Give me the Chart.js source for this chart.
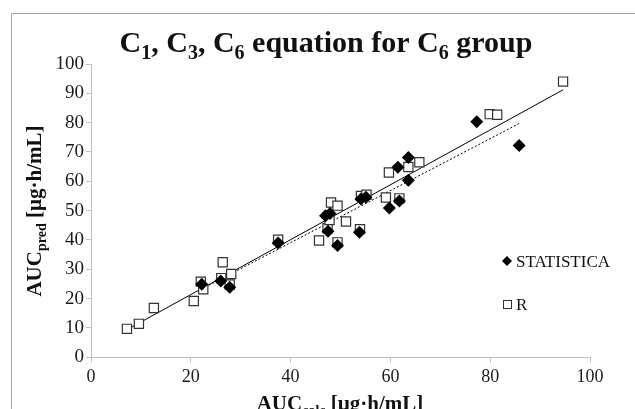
<!DOCTYPE html>
<html>
<head>
<meta charset="utf-8">
<script src="https://cdn.jsdelivr.net/npm/chart.js@4.4.1/dist/chart.umd.min.js"></script>
<style>
  html, body { margin: 0; padding: 0; background: #fff; }
  #wrap { width: 635px; height: 409px; position: relative; }
</style>
</head>
<body>
<div id="wrap"><canvas id="grafico" width="635" height="409"></canvas></div>
<script>
// STATISTICA (rombos negros)
const statX = [22.2, 26.0, 27.8, 37.5, 47.0, 47.9, 47.5, 49.4, 53.8, 54.1, 55.1, 59.8, 61.8, 61.5, 63.6, 63.6, 77.3, 85.8];
const statY = [24.9, 26.0, 23.9, 39.0, 48.3, 49.0, 43.0, 38.1, 42.6, 54.0, 54.6, 50.9, 53.3, 64.8, 68.1, 60.4, 80.3, 72.2];

// R (cuadrados vacios)
const rX = [7.2, 9.6, 12.6, 20.6, 22.0, 22.5, 26.1, 26.4, 27.8, 28.1, 37.5, 45.7, 47.4, 47.8, 48.1, 49.4, 49.4, 51.1, 53.9, 54.1, 55.2, 59.1, 59.7, 61.8, 63.6, 65.8, 79.9, 81.4, 94.6];
const rY = [9.7, 11.4, 16.8, 19.2, 25.8, 23.2, 27.0, 32.4, 24.8, 28.4, 40.1, 39.8, 44.0, 46.8, 52.8, 51.7, 39.2, 46.3, 43.7, 55.0, 55.4, 54.5, 63.0, 54.2, 64.9, 66.5, 82.9, 82.7, 94.0];

// lineas de tendencia (extremos)
const rFitX = [7.2, 94.6];
const rFitY = [9.4, 91.2];
const statFitX = [22.2, 85.8];
const statFitY = [23.3, 79.7];

const ticksY = [0, 10, 20, 30, 40, 50, 60, 70, 80, 90, 100];
const ticksX = [0, 20, 40, 60, 80, 100];

const puntos = (xs, ys) => xs.map((x, i) => ({ x: x, y: ys[i] }));

const serif = '"Liberation Serif", "Times New Roman", serif';

// dibuja texto con subindices
function textoRico(ctx, partes, size, x, y, align) {
    const sub = Math.round(size * 0.65);
    let ancho = 0;
    partes.forEach(p => {
        ctx.font = 'bold ' + (p.sub ? sub : size) + 'px ' + serif;
        p.w = ctx.measureText(p.t).width;
        ancho += p.w;
    });
    let cx = align === 'center' ? x - ancho / 2 : x;
    partes.forEach(p => {
        ctx.font = 'bold ' + (p.sub ? sub : size) + 'px ' + serif;
        ctx.fillText(p.t, cx, p.sub ? y + size * 0.22 : y);
        cx += p.w;
    });
}

const decoracion = {
    id: 'decoracion',
    beforeDraw(chart) {
        const ctx = chart.ctx;
        ctx.save();
        ctx.strokeStyle = '#a6a6a6';
        ctx.lineWidth = 1;
        ctx.beginPath();
        ctx.moveTo(11.5, 409);
        ctx.lineTo(11.5, 13.5);
        ctx.lineTo(635, 13.5);
        ctx.stroke();
        ctx.restore();
    },
    afterDraw(chart) {
        const ctx = chart.ctx;
        ctx.save();
        ctx.fillStyle = '#111';
        ctx.textBaseline = 'alphabetic';
        ctx.textAlign = 'left';
        // titulo
        textoRico(ctx, [
            { t: 'C' }, { t: '1', sub: true }, { t: ', C' }, { t: '3', sub: true },
            { t: ', C' }, { t: '6', sub: true }, { t: ' equation for C' }, { t: '6', sub: true },
            { t: ' group' }
        ], 30, 326, 52, 'center');
        // titulo eje x
        textoRico(ctx, [{ t: 'AUC' }, { t: 'calc', sub: true }, { t: ' [µg·h/mL]' }], 21, 340, 410, 'center');
        // titulo eje y
        ctx.save();
        ctx.translate(41, 211);
        ctx.rotate(-Math.PI / 2);
        textoRico(ctx, [{ t: 'AUC' }, { t: 'pred', sub: true }, { t: ' [µg·h/mL]' }], 21, 0, 0, 'center');
        ctx.restore();

        // leyenda
        ctx.fillStyle = '#000';
        ctx.beginPath();
        ctx.moveTo(507, 256); ctx.lineTo(512, 261); ctx.lineTo(507, 266); ctx.lineTo(502, 261);
        ctx.closePath();
        ctx.fill();
        ctx.strokeStyle = '#333';
        ctx.lineWidth = 1;
        ctx.strokeRect(503.5, 300.5, 8, 8);
        ctx.fillStyle = '#111';
        ctx.font = '17px ' + serif;
        ctx.fillText('STATISTICA', 516, 267);
        ctx.fillText('R', 516, 310);
        ctx.restore();
    }
};

const ctx = document.getElementById('grafico').getContext('2d');
new Chart(ctx, {
    type: 'scatter',
    data: {
        datasets: [
            {
                label: 'STATISTICA',
                data: puntos(statX, statY),
                pointStyle: 'rectRot',
                pointRadius: 6.5,
                backgroundColor: '#000',
                borderColor: '#000',
                borderWidth: 0
            },
            {
                label: 'R',
                data: puntos(rX, rY),
                pointStyle: 'rect',
                pointRadius: 6.5,
                backgroundColor: '#fff',
                borderColor: '#333',
                borderWidth: 1.2
            },
            {
                label: 'tendencia R',
                type: 'line',
                data: puntos(rFitX, rFitY),
                borderColor: '#000',
                borderWidth: 1,
                pointRadius: 0,
                fill: false
            },
            {
                label: 'tendencia STATISTICA',
                type: 'line',
                data: puntos(statFitX, statFitY),
                borderColor: '#000',
                borderWidth: 1,
                borderDash: [2, 2],
                pointRadius: 0,
                fill: false
            }
        ]
    },
    options: {
        responsive: false,
        animation: false,
        layout: { padding: { left: 0, top: 64, right: 45, bottom: 0 } },
        plugins: { legend: { display: false }, tooltip: { enabled: false } },
        scales: {
            x: {
                type: 'linear',
                min: 0, max: 100,
                afterFit: s => { s.height = 51.7; },
                afterBuildTicks: s => { s.ticks = ticksX.map(v => ({ value: v })); },
                grid: { drawOnChartArea: false, tickLength: 5, color: '#bfbfbf' },
                border: { color: '#bfbfbf' },
                ticks: { padding: 4, color: '#1a1a1a', font: { family: serif, size: 18 } }
            },
            y: {
                type: 'linear',
                min: 0, max: 100,
                afterFit: s => { s.width = 91; },
                afterBuildTicks: s => { s.ticks = ticksY.map(v => ({ value: v })); },
                grid: { drawOnChartArea: false, tickLength: 5, color: '#bfbfbf' },
                border: { color: '#bfbfbf' },
                ticks: { padding: 2, color: '#1a1a1a', font: { family: serif, size: 19 } }
            }
        }
    },
    plugins: [decoracion]
});
</script>
</body>
</html>
